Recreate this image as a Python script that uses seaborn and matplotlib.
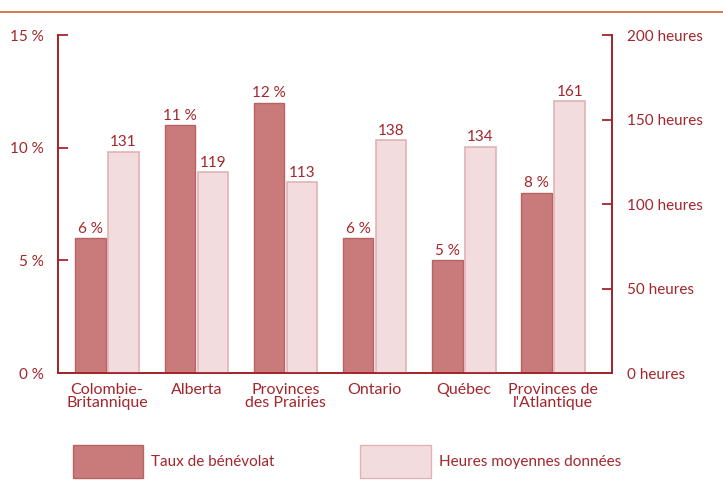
import numpy as np
import pandas as pd
import matplotlib
matplotlib.use("Agg")
import matplotlib.pyplot as plt
from matplotlib.lines import Line2D
from matplotlib.patches import Patch
import seaborn as sns

regions = ["Colombie-\nBritannique", "Alberta", "Provinces\ndes Prairies",
           "Ontario", "Québec", "Provinces de\nl'Atlantique"]
taux = [6, 11, 12, 6, 5, 8]            # taux de bénévolat (%)
heures = [131, 119, 113, 138, 134, 161]  # heures moyennes données

left_ticks = [0, 5, 10, 15]
left_labels = ["0 %", "5 %", "10 %", "15 %"]
right_ticks = [0, 50, 100, 150, 200]
right_labels = ["0 heures", "50 heures", "100 heures", "150 heures", "200 heures"]

DARK_RED = "#a3262c"
BAR_DARK = "#c97a7a"
BAR_DARK_EDGE = "#b86262"
BAR_LIGHT = "#f3dcdd"
BAR_LIGHT_EDGE = "#e2b3b5"

sns.set_style("white")
plt.rcParams['font.family'] = ['Lato', 'DejaVu Sans']

fig = plt.figure(figsize=(7.23, 4.91), dpi=100)
ax = fig.add_axes([0.0802, 0.2403, 0.7663, 0.6884])
ax2 = ax.twinx()

pos = np.arange(len(regions))
off = 0.185
df_t = pd.DataFrame({"x": pos - off, "v": taux})
df_h = pd.DataFrame({"x": pos + off, "v": heures})

sns.barplot(data=df_t, x="x", y="v", native_scale=True, width=0.34,
            color=BAR_DARK, edgecolor=BAR_DARK_EDGE, linewidth=1,
            saturation=1, ax=ax)
sns.barplot(data=df_h, x="x", y="v", native_scale=True, width=0.34,
            color=BAR_LIGHT, edgecolor=BAR_LIGHT_EDGE, linewidth=1.2,
            saturation=1, ax=ax2)

ax.set_xlim(-0.55, len(regions) - 1 + 0.66)
ax.set_ylim(0, 15)
ax2.set_ylim(0, 200)

# value labels
for x, v in zip(pos - off, taux):
    ax.text(x, v + 0.1, f"{v} %", ha="center", va="bottom",
            color=DARK_RED, fontsize=11)
for x, v in zip(pos + off, heures):
    ax2.text(x, v + 1.3, f"{v}", ha="center", va="bottom",
             color=DARK_RED, fontsize=11)

# axes styling
for a in (ax, ax2):
    a.set_xlabel("")
    a.set_ylabel("")
    a.spines["top"].set_visible(False)
    for s in ("left", "right", "bottom"):
        a.spines[s].set_color(DARK_RED)
        a.spines[s].set_linewidth(1.3)

ax.set_yticks(left_ticks)
ax.set_yticklabels(left_labels)
ax.tick_params(axis="y", direction="in", length=7, width=1.3,
               color=DARK_RED, labelcolor=DARK_RED, labelsize=11, pad=10)
ax2.set_yticks(right_ticks)
ax2.set_yticklabels(right_labels)
ax2.tick_params(axis="y", direction="in", length=7, width=1.3,
                color=DARK_RED, labelcolor=DARK_RED, labelsize=11, pad=11)

ax.set_xticks(pos)
ax.set_xticklabels(regions, linespacing=0.95)
ax.set_xticks(pos[:-1] + 0.5, minor=True)
ax.tick_params(axis="x", which="major", length=0, labelcolor=DARK_RED,
               labelsize=11.5, pad=7)
ax.tick_params(axis="x", which="minor", direction="in", length=5,
               width=1.3, color=DARK_RED)
ax2.tick_params(axis="x", which="both", length=0)

# top rule
fig.add_artist(Line2D([0, 1], [0.9756, 0.9756], color="#d0622e", lw=1.2))

# legend
handles = [Patch(facecolor=BAR_DARK, edgecolor=BAR_DARK_EDGE),
           Patch(facecolor=BAR_LIGHT, edgecolor=BAR_LIGHT_EDGE)]
leg = fig.legend(handles, ["Taux de bénévolat", "Heures moyennes données"],
                 loc="lower left", bbox_to_anchor=(0.092, 0.014), ncol=2,
                 frameon=False, handlelength=4.6, handleheight=2.9,
                 handletextpad=0.55, columnspacing=5.6, fontsize=11,
                 borderaxespad=0)
for t in leg.get_texts():
    t.set_color(DARK_RED)

fig.savefig("out.png", dpi=100)
